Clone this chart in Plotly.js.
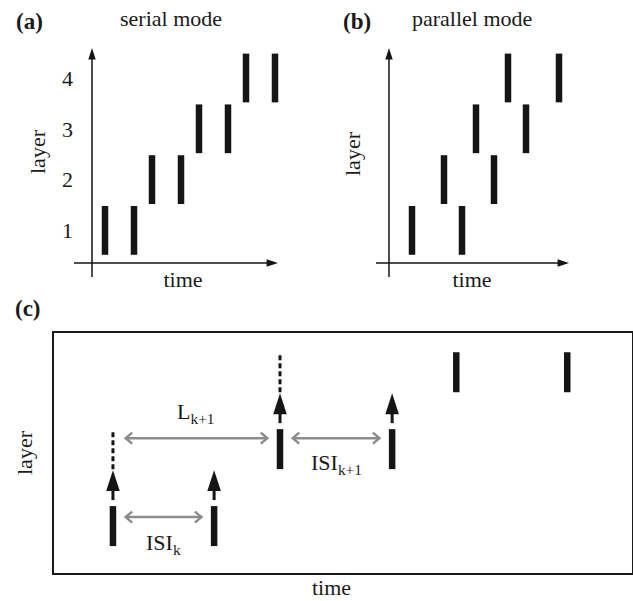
<!DOCTYPE html>
<html>
<head>
<meta charset="utf-8">
<script src="https://cdn.plot.ly/plotly-3.0.1.min.js"></script>
<style>
  html, body { margin: 0; padding: 0; background: #fff; }
  #chart { width: 633px; height: 601px; }
</style>
</head>
<body>
<div id="chart"></div>
<script>
// ---- Spike data -----------------------------------------------------------
// Layer index of each row of spikes
const layers = [1, 2, 3, 4];
const layerTickLabels = ['1', '2', '3', '4'];

// (a) serial mode: spike times per layer
const serialSpikes = [[1.3, 4.2], [6.0, 8.9], [10.7, 13.6], [15.4, 18.3]];
// (b) parallel mode: spike times per layer
const parallelSpikes = [[2.3, 7.3], [5.5, 10.5], [8.7, 13.7], [11.9, 17.0]];

// (c) detail: three layers, two spikes each
const detailLayers = [1, 2, 3];
const detailSpikes = [[10.2, 27.7], [39.1, 58.5], [69.6, 88.8]];

// Interval labels in (c) and the spikes they span: [layer row, spike]
const intervalNames = ['ISI<sub>k</sub>', 'L<sub>k+1</sub>', 'ISI<sub>k+1</sub>'];
const intervalFrom = [[0, 0], [0, 0], [1, 0]];
const intervalTo   = [[0, 1], [1, 0], [1, 1]];

// ---- Page geometry --------------------------------------------------------
const W = 633, H = 601;
const px = v => v / W;        // horizontal pixel -> paper
const py = v => 1 - v / H;    // vertical pixel -> paper

const FONT = 'Liberation Serif, Times New Roman, serif';
const INK = '#151515';
const GREY = '#8c8c8c';

// Panel (c) axis ranges and its pixel box, used to size arrowheads in px
const cBox = { x0: 54, x1: 632, y0: 333, y1: 573 };
const cXRange = [0, 100];
const cYRange = [0.39, 3.51];
const cPxPerX = (cBox.x1 - cBox.x0) / (cXRange[1] - cXRange[0]);
const cPxPerY = (cBox.y1 - cBox.y0) / (cYRange[1] - cYRange[0]);

// ---- Helpers ------------------------------------------------------------
function spikeTrace(spikes, rows, half, xa, ya) {
  const x = [], y = [];
  spikes.forEach((times, i) => {
    times.forEach(t => {
      x.push(t, t, null);
      y.push(rows[i] - half, rows[i] + half, null);
    });
  });
  return {
    type: 'scatter', mode: 'lines', x, y, xaxis: xa, yaxis: ya,
    line: { color: INK, width: 6.5 }, hoverinfo: 'skip'
  };
}

// Arrowed axes (lines + arrow markers) for panels (a) and (b)
function arrowAxes(ax, xa, ya) {
  return [
    {
      type: 'scatter', mode: 'lines', xaxis: xa, yaxis: ya, hoverinfo: 'skip',
      x: [ax.yAxisX, ax.yAxisX, null, ax.xStart, ax.xTip - 0.3],
      y: [ax.yStart, ax.yTip - 0.06, null, ax.xAxisY, ax.xAxisY],
      line: { color: INK, width: 1.5 }
    },
    {
      type: 'scatter', mode: 'markers', xaxis: xa, yaxis: ya, hoverinfo: 'skip',
      x: [ax.yAxisX, ax.xTip], y: [ax.yTip, ax.xAxisY],
      marker: { symbol: 'arrow', size: 12, color: INK, angle: [0, 90], line: { width: 0 } }
    }
  ];
}

const axesA = { yAxisX: 0, yStart: 0.083, yTip: 4.591, xAxisY: 0.358, xStart: -1.8, xTip: 18.6 };
const axesB = { yAxisX: 0, yStart: 0.083, yTip: 4.591, xAxisY: 0.358, xStart: -1.3, xTip: 18.0 };

// ---- Panel (c) extras ---------------------------------------------------
const detailHalf = 0.26;
const shaftX = [], shaftY = [], headX = [], headY = [], dashX = [], dashY = [];
detailSpikes.forEach((times, i) => {
  if (i === detailSpikes.length - 1) return;    // top layer has no onward arrows
  const L = detailLayers[i];
  times.forEach((t, j) => {
    shaftX.push(t, t, null);
    shaftY.push(L + 0.338, L + 0.6, null);
    headX.push(t);
    headY.push(L + 0.727);
    if (j === 0) {                                // first spike marks the next layer's onset
      dashX.push(t, t, null);
      dashY.push(L + 0.74, L + 1.26, null);
    }
  });
});

// Grey double-headed interval arrows (shaft + open chevron at each end)
const intervalY = [0.117, 0.143, 0.143];      // height above the row's layer
const labelShift = [-27, 25, -26];            // label offset from the arrow (px)
const gap = 2.2;
const armX = 6.5 / cPxPerX, armY = 5.5 / cPxPerY;
const isiX = [], isiY = [], isiMid = [], isiRowY = [];
intervalNames.forEach((name, k) => {
  const [r0, s0] = intervalFrom[k];
  const [r1, s1] = intervalTo[k];
  const a = detailSpikes[r0][s0] + gap;
  const b = detailSpikes[r1][s1] - gap;
  const yy = detailLayers[r1] + intervalY[k];
  isiX.push(a, b, null,
            a + armX, a, a + armX, null,
            b - armX, b, b - armX, null);
  isiY.push(yy, yy, null,
            yy + armY, yy, yy - armY, null,
            yy + armY, yy, yy - armY, null);
  isiMid.push((a + b) / 2);
  isiRowY.push(yy);
});

const traces = [
  // (a)
  ...arrowAxes(axesA, 'x', 'y'),
  spikeTrace(serialSpikes, layers, 0.48, 'x', 'y'),
  // (b)
  ...arrowAxes(axesB, 'x2', 'y2'),
  spikeTrace(parallelSpikes, layers, 0.48, 'x2', 'y2'),
  // (c)
  spikeTrace(detailSpikes, detailLayers, detailHalf, 'x3', 'y3'),
  {
    type: 'scatter', mode: 'lines', x: shaftX, y: shaftY, xaxis: 'x3', yaxis: 'y3',
    line: { color: INK, width: 3 }, hoverinfo: 'skip'
  },
  {
    type: 'scatter', mode: 'markers', x: headX, y: headY, xaxis: 'x3', yaxis: 'y3',
    marker: { symbol: 'arrow', size: 22, color: INK, line: { width: 0 } }, hoverinfo: 'skip'
  },
  {
    type: 'scatter', mode: 'lines', x: dashX, y: dashY, xaxis: 'x3', yaxis: 'y3',
    line: { color: INK, width: 3, dash: '5px,3px' }, hoverinfo: 'skip'
  },
  {
    type: 'scatter', mode: 'lines', x: isiX, y: isiY, xaxis: 'x3', yaxis: 'y3',
    line: { color: GREY, width: 2.5 }, hoverinfo: 'skip'
  }
];

// ---- Annotations ---------------------------------------------------------
const txt = (size) => ({ family: FONT, size: size, color: '#1a1a1a' });
const annotations = [];

function paperLabel(text, x, y, size, opts) {
  annotations.push(Object.assign({
    xref: 'paper', yref: 'paper', x: px(x), y: py(y), text: text,
    showarrow: false, xanchor: 'center', yanchor: 'middle', font: txt(size)
  }, opts || {}));
}

paperLabel('<b>(a)</b>', 29, 22, 23);
paperLabel('<b>(b)</b>', 357, 22, 23);
paperLabel('<b>(c)</b>', 28, 308, 23);
paperLabel('serial mode', 171, 19, 22);
paperLabel('parallel mode', 472, 19, 22);
paperLabel('time', 331, 587, 22);

intervalNames.forEach((name, k) => {
  annotations.push({
    xref: 'x3', yref: 'y3', x: isiMid[k], y: isiRowY[k], yshift: labelShift[k],
    text: name, showarrow: false, xanchor: 'center', yanchor: 'middle', font: txt(22)
  });
});

// ---- Layout --------------------------------------------------------------
// Axes of (a) and (b) carry only titles (and tick labels in (a)); their
// arrowed lines are drawn as traces above.
const bare = {
  showline: false, showgrid: false, zeroline: false, ticks: '', fixedrange: true
};

const layout = {
  width: W, height: H,
  margin: { l: 0, r: 0, t: 0, b: 0 },
  paper_bgcolor: '#fff', plot_bgcolor: 'rgba(0,0,0,0)',
  showlegend: false,
  font: { family: FONT, size: 22, color: '#1a1a1a' },

  // (a)
  xaxis: Object.assign({}, bare, {
    domain: [px(74), px(292)], range: [-1.8, 20.0],
    anchor: 'free', position: py(263), showticklabels: false,
    title: { text: 'time', font: txt(22), standoff: 8 }
  }),
  yaxis: Object.assign({}, bare, {
    domain: [py(280), py(24)], range: [0.0236, 5.063], anchor: 'x',
    tickvals: layers, ticktext: layerTickLabels, tickfont: txt(22),
    ticklabelstandoff: 0,
    title: { text: 'layer', font: txt(22), standoff: 10 }
  }),

  // (b)
  xaxis2: Object.assign({}, bare, {
    domain: [px(374), px(570)], range: [-1.5, 18.1],
    anchor: 'free', position: py(263), showticklabels: false,
    title: { text: 'time', font: txt(22), standoff: 8 }
  }),
  yaxis2: Object.assign({}, bare, {
    domain: [py(280), py(28)], range: [0.0236, 4.984], anchor: 'x2',
    showticklabels: false,
    title: { text: 'layer', font: txt(22), standoff: 6 }
  }),

  // (c)
  xaxis3: {
    domain: [px(cBox.x0), px(cBox.x1)], range: cXRange, anchor: 'y3',
    showline: true, mirror: true, linewidth: 2, linecolor: '#1a1a1a',
    showgrid: false, zeroline: false, ticks: '', showticklabels: false, fixedrange: true
  },
  yaxis3: {
    domain: [py(cBox.y1), py(cBox.y0)], range: cYRange, anchor: 'x3',
    showline: true, mirror: true, linewidth: 2, linecolor: '#1a1a1a',
    showgrid: false, zeroline: false, ticks: '', showticklabels: false, fixedrange: true,
    title: { text: 'layer', font: txt(22), standoff: 13 }
  },

  annotations: annotations
};

Plotly.newPlot('chart', traces, layout, { displayModeBar: false, staticPlot: true });
</script>
</body>
</html>
